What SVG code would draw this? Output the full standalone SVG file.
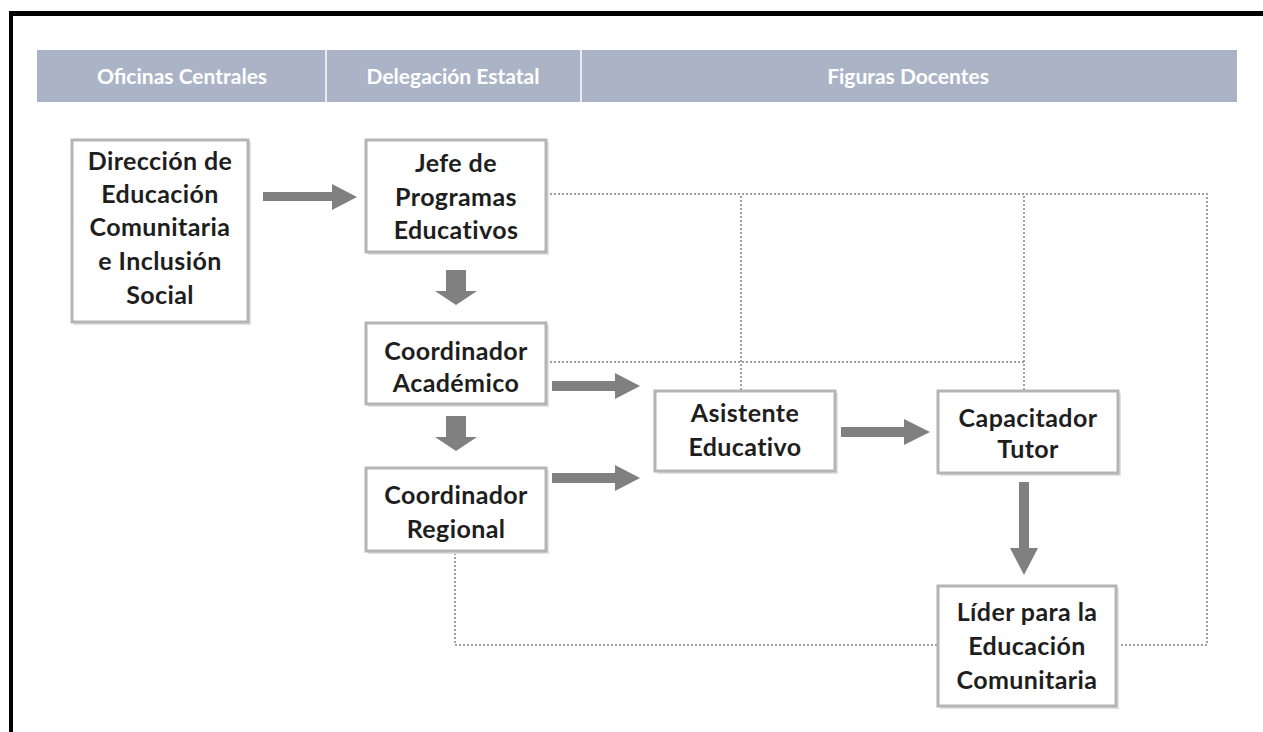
<svg xmlns="http://www.w3.org/2000/svg" width="1263" height="732" viewBox="0 0 1263 732">
<style>
.frame{fill:#000}
.band{fill:#abb4c6}
.sep{stroke:#e8ecf2;stroke-width:2}
.htxt{font-family:Lato,"Open Sans",sans-serif;font-weight:bold;font-size:21px;fill:#ffffff;text-anchor:middle}
.box{fill:#fff;stroke:#b4b4b4;stroke-width:3}
.shadow{fill:#e2e2e2}
.ntxt{font-family:Lato,"Open Sans",sans-serif;font-weight:bold;font-size:25px;letter-spacing:0.4px;fill:#1e1e1e;text-anchor:middle}
.arrow{fill:#808080}
.dot{fill:none;stroke:#a0a0a0;stroke-width:2;stroke-dasharray:2 2}
</style>
<rect width="1263" height="732" fill="#fff"/>
<rect class="frame" x="9" y="11" width="1254" height="5"/>
<rect class="frame" x="9" y="11" width="4" height="721"/>

<g id="header">
<rect class="band" x="37" y="50" width="1200" height="52"/>
<line class="sep" x1="326" y1="50" x2="326" y2="102"/>
<line class="sep" x1="581" y1="50" x2="581" y2="102"/>
<text class="htxt" x="182" y="84">Oficinas Centrales</text>
<text class="htxt" x="453" y="84">Delegación Estatal</text>
<text class="htxt" x="908" y="84">Figuras Docentes</text>
</g>

<g id="connectors">
<path class="dot" d="M550 194 H1207 V645 H1118"/>
<path class="dot" d="M741 196 V391"/>
<path class="dot" d="M1024 196 V391"/>
<path class="dot" d="M550 362 H1024"/>
<path class="dot" d="M455 553 V645 H938"/>
<polygon class="arrow" points="263,192 332,192 332,184 357,197 332,210 332,201 263,201"/>
<polygon class="arrow" points="446,270 466,270 466,291 477,291 456,305 435,291 446,291"/>
<polygon class="arrow" points="446,416 466,416 466,437 477,437 456,451 435,437 446,437"/>
<polygon class="arrow" points="552,381 615,381 615,373 640,386 615,399 615,391 552,391"/>
<polygon class="arrow" points="552,473 615,473 615,465 640,478 615,491 615,483 552,483"/>
<polygon class="arrow" points="841,427 904,427 904,419 930,432 904,445 904,437 841,437"/>
<polygon class="arrow" points="1019,482 1029,482 1029,548 1038,548 1024,575 1010,548 1019,548"/>
</g>

<g id="n-direccion">
<rect class="shadow" x="74" y="142" width="177" height="183"/>
<rect class="box" x="72" y="140" width="176" height="182"/>
<text class="ntxt" x="160" y="170">Dirección de</text>
<text class="ntxt" x="160" y="203">Educación</text>
<text class="ntxt" x="160" y="236">Comunitaria</text>
<text class="ntxt" x="160" y="270">e Inclusión</text>
<text class="ntxt" x="160" y="304">Social</text>
</g>

<g id="n-jefe">
<rect class="shadow" x="368" y="142" width="181" height="113"/>
<rect class="box" x="366" y="140" width="180" height="112"/>
<text class="ntxt" x="456" y="172">Jefe de</text>
<text class="ntxt" x="456" y="206">Programas</text>
<text class="ntxt" x="456" y="239">Educativos</text>
</g>

<g id="n-coord-academico">
<rect class="shadow" x="368" y="325" width="181" height="82"/>
<rect class="box" x="366" y="323" width="180" height="81"/>
<text class="ntxt" x="456" y="360">Coordinador</text>
<text class="ntxt" x="456" y="392">Académico</text>
</g>

<g id="n-coord-regional">
<rect class="shadow" x="368" y="470" width="181" height="84"/>
<rect class="box" x="366" y="468" width="180" height="83"/>
<text class="ntxt" x="456" y="504">Coordinador</text>
<text class="ntxt" x="456" y="538">Regional</text>
</g>

<g id="n-asistente">
<rect class="shadow" x="657" y="393" width="181" height="81"/>
<rect class="box" x="655" y="391" width="180" height="80"/>
<text class="ntxt" x="745" y="422">Asistente</text>
<text class="ntxt" x="745" y="456">Educativo</text>
</g>

<g id="n-capacitador">
<rect class="shadow" x="940" y="393" width="181" height="83"/>
<rect class="box" x="938" y="391" width="180" height="82"/>
<text class="ntxt" x="1028" y="427">Capacitador</text>
<text class="ntxt" x="1028" y="458">Tutor</text>
</g>

<g id="n-lider">
<rect class="shadow" x="940" y="588" width="179" height="121"/>
<rect class="box" x="938" y="586" width="178" height="120"/>
<text class="ntxt" x="1027" y="621">Líder para la</text>
<text class="ntxt" x="1027" y="655">Educación</text>
<text class="ntxt" x="1027" y="689">Comunitaria</text>
</g>
</svg>
